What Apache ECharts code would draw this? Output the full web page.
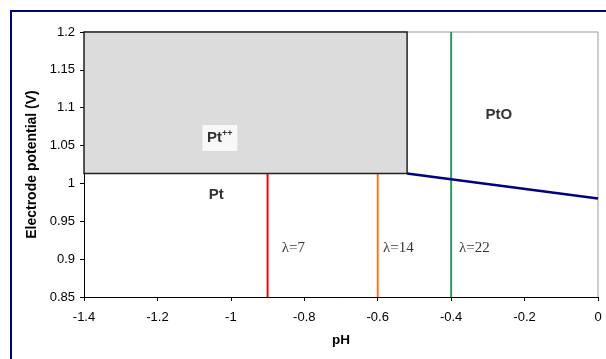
<!DOCTYPE html>
<html>
<head>
<meta charset="utf-8">
<script src="https://cdn.jsdelivr.net/npm/echarts@6/dist/echarts.min.js"></script>
<style>html,body{margin:0;padding:0;background:#fff}#c{width:606px;height:359px}</style>
</head>
<body>
<div id="c"></div>
<script>
// Pourbaix-type diagram data
const xTicks = [-1.4, -1.2, -1, -0.8, -0.6, -0.4, -0.2, 0];
const yTicks = [0.85, 0.9, 0.95, 1, 1.05, 1.1, 1.15, 1.2];
const ptPlusPlusRegion = [[-1.4, 1.013], [-0.52, 1.2]]; // [xmin,ymin],[xmax,ymax]
const ptoBoundary = [[-0.52, 1.013], [0, 0.98]];
const lambda7 = [[-0.9, 0.85], [-0.9, 1.013]];
const lambda14 = [[-0.6, 0.85], [-0.6, 1.013]];
const lambda22 = [[-0.4, 0.85], [-0.4, 1.2]];
const regionLabels = [
  {name: 'Pt++', pos: [-1.03, 1.06]},
  {name: 'Pt', pos: [-1.04, 0.985]},
  {name: 'PtO', pos: [-0.27, 1.09]}
];
const lambdaLabels = [
  {name: 'λ=7', pos: [-0.83, 0.915]},
  {name: 'λ=14', pos: [-0.544, 0.915]},
  {name: 'λ=22', pos: [-0.337, 0.915]}
];

const chart = echarts.init(document.getElementById('c'), null, {renderer: 'canvas'});
const font = 'Liberation Sans, Arial, sans-serif';
const option = {
  animation: false,
  backgroundColor: '#fff',
  grid: {left: 84, right: 8, top: 32, bottom: 62},
  xAxis: {
    type: 'value', min: -1.4, max: 0, interval: 0.2,
    name: 'pH', nameLocation: 'middle', nameGap: 36,
    nameTextStyle: {fontFamily: font, fontSize: 13.5, fontWeight: 'bold', color: '#000'},
    axisLine: {show: true, onZero: false, lineStyle: {color: '#000', width: 1}},
    axisTick: {show: true, inside: false, length: 4, lineStyle: {color: '#000'}},
    axisLabel: {fontFamily: font, fontSize: 13, color: '#000', margin: 14},
    splitLine: {show: false}
  },
  yAxis: {
    type: 'value', min: 0.85, max: 1.2, interval: 0.05,
    name: 'Electrode potential (V)', nameLocation: 'middle', nameGap: 43,
    nameTextStyle: {fontFamily: font, fontSize: 14, fontWeight: 'bold', color: '#000'},
    axisLine: {show: true, onZero: false, lineStyle: {color: '#000', width: 1}},
    axisTick: {show: true, inside: false, length: 4, lineStyle: {color: '#000'}},
    axisLabel: {fontFamily: font, fontSize: 13, color: '#000', margin: 9,
      formatter: v => String(parseFloat(v.toFixed(2)))},
    splitLine: {show: false}
  },
  series: [
    {
      type: 'custom', z: 2,
      data: [ptPlusPlusRegion[0].concat(ptPlusPlusRegion[1])],
      renderItem: function (params, api) {
        const p0 = api.coord([api.value(0), api.value(1)]);
        const p1 = api.coord([api.value(2), api.value(3)]);
        return {
          type: 'rect',
          shape: {x: p0[0], y: p1[1], width: p1[0] - p0[0], height: p0[1] - p1[1]},
          style: {fill: '#dcdcdc', stroke: '#222', lineWidth: 1.5}
        };
      }
    },
    {type: 'line', data: lambda7, symbol: 'none', lineStyle: {color: '#ff0000', width: 2}, z: 1},
    {type: 'line', data: lambda14, symbol: 'none', lineStyle: {color: '#ff7420', width: 2}, z: 1},
    {type: 'line', data: lambda22, symbol: 'none', lineStyle: {color: '#2e9a60', width: 2}, z: 1},
    {type: 'line', data: ptoBoundary, symbol: 'none', lineStyle: {color: '#000080', width: 2.5}, z: 3},
    {
      type: 'scatter', symbolSize: 0, z: 4,
      data: [{value: regionLabels[0].pos, name: 'bg'}],
      label: {show: true, position: 'inside', formatter: ' ', backgroundColor: '#fff', width: 35, height: 26},
      itemStyle: {color: 'transparent'}
    },
    {
      type: 'scatter', symbolSize: 0, z: 5,
      data: regionLabels.map(d => ({value: d.pos, name: d.name})),
      label: {
        show: true, position: 'inside', color: '#000',
        formatter: p => p.name === 'Pt++' ? '{b|Pt}{s|++}' : '{b|' + p.name + '}',
        rich: {
          b: {fontFamily: font, fontSize: 15, fontWeight: 'bold', color: '#000'},
          s: {fontFamily: font, fontSize: 9, fontWeight: 'bold', color: '#000', verticalAlign: 'top', padding: [0, 0, 9, 0]}
        }
      },
      itemStyle: {color: 'transparent'}
    },
    {
      type: 'scatter', symbolSize: 0, z: 5,
      data: lambdaLabels.map(d => ({value: d.pos, name: d.name})),
      label: {show: true, position: 'inside', formatter: p => p.name,
        fontFamily: 'Liberation Serif, Times New Roman, serif', fontSize: 15, color: '#000'},
      itemStyle: {color: 'transparent'}
    }
  ]
};
chart.setOption(option);
// outer frame and gray top/right border of plot area
const gr = chart.getModel().getComponent('grid').coordinateSystem.getRect();
chart.setOption({graphic: [
  {type: 'rect', shape: {x: 11, y: 11, width: 700, height: 500}, style: {fill: 'none', stroke: '#000080', lineWidth: 2}, z: 100, silent: true},
  {type: 'polyline', shape: {points: [[gr.x, gr.y], [gr.x + gr.width, gr.y], [gr.x + gr.width, gr.y + gr.height]]},
   style: {stroke: '#999', lineWidth: 1, fill: 'none'}, z: 0, silent: true}
]});
</script>
</body>
</html>
